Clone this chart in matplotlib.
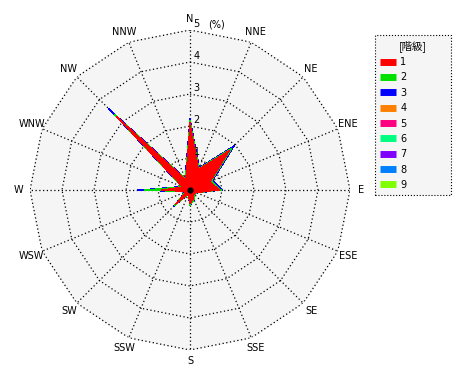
import numpy as np
import matplotlib
matplotlib.use("Agg")
import matplotlib.pyplot as plt
from matplotlib.lines import Line2D

plt.rcParams['font.family'] = ['DejaVu Sans', 'Noto Sans CJK JP']

# 16 方位
directions = ["N", "NNE", "NE", "ENE", "E", "ESE", "SE", "SSE",
              "S", "SSW", "SW", "WSW", "W", "WNW", "NW", "NNW"]

# 階級別出現率 (%)
class1 = [2.10, 0.70, 1.75, 0.68, 0.92, 0.22, 0.18, 0.30,
          0.42, 0.14, 0.62, 0.14, 0.88, 0.25, 3.25, 0.35]
class2 = [0.08, 0.03, 0.10, 0.04, 0.05, 0.02, 0.02, 0.03,
          0.05, 0.02, 0.08, 0.02, 0.55, 0.02, 0.10, 0.03]
class3 = [0.07, 0.03, 0.12, 0.05, 0.05, 0.01, 0.01, 0.01,
          0.01, 0.01, 0.01, 0.01, 0.20, 0.02, 0.25, 0.03]
zeros = [0.0] * 16
classes = [class1, class2, class3, zeros, zeros, zeros, zeros, zeros, zeros]
class_labels = ["1", "2", "3", "4", "5", "6", "7", "8", "9"]
colors = ["#ff0000", "#00e000", "#0000ff", "#ff8000", "#ff0080",
          "#00ff80", "#8000ff", "#0080ff", "#80ff00"]
rticks = [1, 2, 3, 4, 5]

fig = plt.figure(figsize=(4.7, 3.8), dpi=100)
ax = fig.add_axes([30 / 470, 30 / 380, 320 / 470, 320 / 380], polar=True)
ax.set_theta_zero_location("N")
ax.set_theta_direction(-1)
ax.set_ylim(0, 5)
ax.axis("off")

theta = np.deg2rad(np.arange(16) * 22.5)
theta_c = np.append(theta, theta[0])

# 背景 (16角形)
ax.fill(theta, [5] * 16, color="#f5f5f5", zorder=0)

# 格子
for r in rticks:
    ax.plot(theta_c, [r] * 17, color="black", lw=0.9, ls=(0, (1, 2)), zorder=1)
for t in theta:
    ax.plot([t, t], [0, 5], color="black", lw=0.9, ls=(0, (1, 2)), zorder=1)

# 累積値を外側から描画
cum = np.cumsum(np.array(classes), axis=0)
for i in range(len(classes) - 1, -1, -1):
    if np.all(np.array(classes[i]) == 0):
        continue
    ax.fill(theta, cum[i], color=colors[i], lw=0, antialiased=False, zorder=2 + (9 - i))

ax.plot([0], [0], "o", color="black", ms=3.5, zorder=20)

# 方位ラベル
for t, d in zip(theta, directions):
    ax.text(t, 5.35, d, ha="center", va="center", fontsize=7, clip_on=False)

# 目盛ラベル
for r in rticks:
    ax.annotate(str(r), xy=(0, r), xytext=(2.5, 0.5), textcoords="offset points",
                ha="left", va="bottom", fontsize=7, zorder=25)
ax.annotate("(%)", xy=(0, 5), xytext=(13, 0.5), textcoords="offset points",
            ha="left", va="bottom", fontsize=7, zorder=25)

# 凡例
handles = [Line2D([], [], color=c, lw=5, solid_capstyle="butt") for c in colors]
leg = fig.legend(handles, class_labels, title="[階級]",
                 loc="upper left", mode="expand",
                 bbox_to_anchor=(375 / 470, 185 / 380, 76 / 470, 160 / 380),
                 borderaxespad=0, fontsize=7, handlelength=1.7, handletextpad=0.4,
                 labelspacing=0.55, borderpad=0.5, fancybox=False, framealpha=1,
                 title_fontproperties={"family": ["Noto Sans CJK JP"], "size": 7.5})
frame = leg.get_frame()
frame.set_facecolor("#f5f5f5")
frame.set_edgecolor("black")
frame.set_linestyle(":")
frame.set_linewidth(0.8)

fig.savefig("out.png", dpi=100)
